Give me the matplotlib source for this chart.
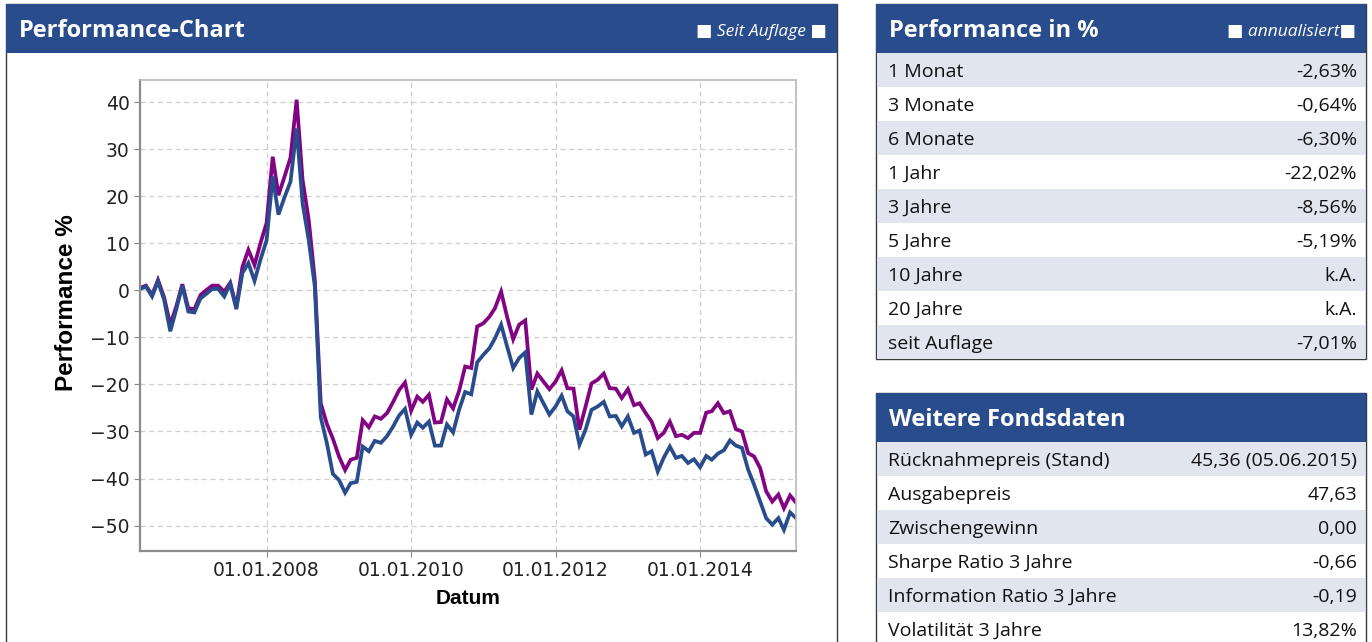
import matplotlib
matplotlib.use("Agg")
import matplotlib.pyplot as plt
import matplotlib.dates as mdates
from matplotlib.patches import Rectangle
import pandas as pd

# Monatswerte ab April 2006 (Performance in %)
start_month = "2006-04-01"
fonds = [0.3, 0.8, -1.3, 1.9, -2.0, -8.7, -4.1, 1.0, -4.5, -4.7,
         -1.7, -0.8, 0.3, 0.3, -1.3, 1.4, -4.0, 3.7, 5.8, 2.0,
         6.5, 10.6, 24.2, 16.1, 19.8, 23.1, 34.4, 18.5, 10.7, 0.8,
         -27.0, -32.5, -39.0, -40.3, -43.0, -41.0, -40.7, -33.2, -34.2, -32.0,
         -32.4, -31.0, -29.0, -26.6, -25.2, -30.7, -28.1, -29.2, -27.9, -33.0,
         -33.0, -28.5, -30.2, -25.3, -21.6, -22.1, -15.3, -13.7, -12.3, -10.2,
         -7.3, -11.9, -16.5, -14.4, -13.2, -26.4, -21.5, -24.0, -26.4, -24.7,
         -22.4, -25.7, -26.8, -32.8, -29.6, -25.4, -24.7, -23.7, -26.8, -26.7,
         -28.9, -26.8, -30.3, -29.8, -34.9, -34.2, -38.5, -35.6, -33.2, -35.6,
         -35.2, -36.7, -35.9, -37.6, -35.2, -36.0, -34.7, -34.0, -31.9, -33.0,
         -33.5, -38.1, -41.3, -44.9, -48.4, -49.8, -48.4, -50.9, -47.2, -48.4]
benchmark = [0.5, 1.0, -1.0, 2.2, -1.5, -7.3, -3.5, 1.3, -3.8, -4.0,
             -1.0, 0.0, 1.0, 1.0, -0.3, 1.6, -3.5, 5.0, 8.6, 5.4,
             10.0, 14.3, 28.4, 20.2, 24.2, 28.2, 40.5, 23.5, 15.0, 2.2,
             -24.0, -28.4, -31.5, -35.3, -38.2, -36.0, -35.6, -27.6, -29.1, -26.8,
             -27.3, -26.1, -23.8, -21.2, -19.6, -25.6, -22.6, -23.7, -22.2, -28.1,
             -28.0, -23.2, -25.1, -21.3, -16.2, -16.5, -7.7, -7.0, -5.6, -3.8,
             -0.3, -5.6, -10.4, -7.3, -6.4, -21.1, -17.7, -19.4, -21.0, -19.4,
             -17.0, -20.8, -20.9, -29.6, -24.7, -19.8, -19.0, -17.7, -20.8, -20.9,
             -22.9, -21.0, -24.4, -24.0, -26.1, -27.9, -31.4, -30.3, -27.9, -31.0,
             -30.7, -31.4, -30.3, -30.3, -26.0, -25.7, -24.0, -26.1, -25.7, -29.5,
             -30.0, -34.6, -35.3, -37.8, -42.7, -44.9, -43.4, -46.3, -43.6, -45.1]
x_ticks = ["2008-01-01", "2010-01-01", "2012-01-01", "2014-01-01"]
y_ticks = [-50, -40, -30, -20, -10, 0, 10, 20, 30, 40]

perf_labels = ["1 Monat", "3 Monate", "6 Monate", "1 Jahr", "3 Jahre",
               "5 Jahre", "10 Jahre", "20 Jahre", "seit Auflage"]
perf_values = ["-2,63%", "-0,64%", "-6,30%", "-22,02%", "-8,56%",
               "-5,19%", "k.A.", "k.A.", "-7,01%"]
fonds_labels = ["Rücknahmepreis (Stand)", "Ausgabepreis", "Zwischengewinn",
                "Sharpe Ratio 3 Jahre", "Information Ratio 3 Jahre", "Volatilität 3 Jahre"]
fonds_values = ["45,36 (05.06.2015)", "47,63", "0,00", "-0,66", "-0,19", "13,82%"]

BLUE = "#294c8c"
PURPLE = "#820482"
ROW_GRAY = "#e1e5ee"
W, H = 1372, 642
UI_FONT = ["Open Sans", "DejaVu Sans"]


def fx(x):
    return x / W


def fy(y):
    return 1 - y / H


def box(fig, x0, y0, x1, y1, face, edge="none", lw=0, z=0):
    fig.patches.append(Rectangle((fx(x0), fy(y1)), fx(x1) - fx(x0), fy(y0) - fy(y1),
                                 transform=fig.transFigure, facecolor=face,
                                 edgecolor=edge, linewidth=lw, zorder=z))


def panel(fig, x0, y0, x1, y1, title, extra=None):
    box(fig, x0, y0, x1, y1, "white", "#3a3a3a", 1.0, z=0)
    box(fig, x0, y0, x1, y0 + 49, BLUE, z=1)
    fig.text(fx(x0 + 13), fy(y0 + 27), title, color="white", fontsize=17,
             fontweight="bold", family=UI_FONT, va="center", ha="left", zorder=3)
    if extra:
        fig.text(fx(x1 - 10), fy(y0 + 28), extra, color="white", fontsize=12.5,
                 style="italic", family=UI_FONT, va="center", ha="right", zorder=3)


def table_rows(fig, x0, x1, y_top, labels, values, row_h=34):
    for i, (lab, val) in enumerate(zip(labels, values)):
        top = y_top + i * row_h
        if i % 2 == 0:
            box(fig, x0 + 1, top, x1 - 1, min(top + row_h, H + 10), ROW_GRAY, z=1)
        fig.text(fx(x0 + 12), fy(top + row_h / 2 + 2), lab, fontsize=14, family=UI_FONT,
                 color="#111111", va="center", ha="left", zorder=3)
        fig.text(fx(x1 - 9), fy(top + row_h / 2 + 2), val, fontsize=14, family=UI_FONT,
                 color="#111111", va="center", ha="right", zorder=3)


fig = plt.figure(figsize=(13.72, 6.42), dpi=100)

# linkes Panel mit Chart
panel(fig, 6, 4, 837, H + 10, "Performance-Chart", "■ Seit Auflage ■")

# rechte Tabellen
panel(fig, 876, 4, 1366, 359, "Performance in %", "■ annualisiert■")
table_rows(fig, 876, 1366, 53, perf_labels, perf_values)
panel(fig, 876, 393, 1366, H + 10, "Weitere Fondsdaten")
table_rows(fig, 876, 1366, 442, fonds_labels, fonds_values)

ax = fig.add_axes([fx(140), fy(551), fx(796) - fx(140), fy(80) - fy(551)])
ax.set_zorder(5)
dates = pd.date_range(start_month, periods=len(fonds), freq="MS")

ax.plot(dates, benchmark, color=PURPLE, linewidth=2.7, solid_joinstyle="miter")
ax.plot(dates, fonds, color=BLUE, linewidth=2.7, solid_joinstyle="miter")

ax.set_xlim(dates[0], dates[-1])
ax.set_ylim(-55.4, 44.7)
ax.set_yticks(y_ticks)
ax.set_xticks(pd.to_datetime(x_ticks))
ax.xaxis.set_major_formatter(mdates.DateFormatter("%d.%m.%Y"))
ax.grid(True, color="#cfcfcf", linestyle=(0, (4, 3)), linewidth=0.9)
ax.set_axisbelow(True)
ax.tick_params(labelsize=13.5, length=4, color="#888888", labelcolor="#222222")

for side in ["left", "bottom"]:
    ax.spines[side].set_color("#8c8c8c")
    ax.spines[side].set_linewidth(1.6)
for side in ["top", "right"]:
    ax.spines[side].set_color("#b8b8b8")
    ax.spines[side].set_linewidth(1.2)

ax.set_ylabel("Performance %", fontsize=17.5, fontweight="bold",
              family="Liberation Sans")
ax.yaxis.set_label_coords(-0.095, 0.527)
ax.set_xlabel("Datum", fontsize=15, fontweight="bold", family="Liberation Sans",
              labelpad=6)

fig.savefig("out.png", dpi=100)
